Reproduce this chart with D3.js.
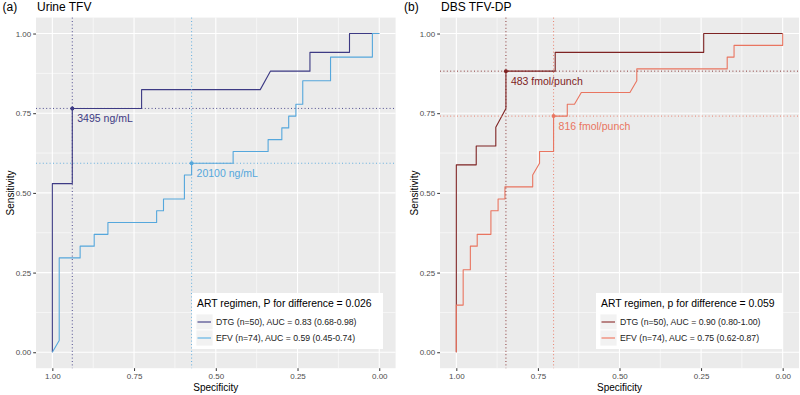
<!DOCTYPE html>
<html lang="en">
<head>
    <meta charset="UTF-8">
    <title>ROC curves by ART regimen</title>
    <script src="https://d3js.org/d3.v7.min.js"></script>
    <style>
        body { margin: 0; background: #fff; }
        svg { display: block; font-family: "Liberation Sans", Arial, sans-serif; }
        .tick-label { fill: #4d4d4d; font-size: 8px; }
        .axis-title { fill: #000; font-size: 10px; }
    </style>
</head>
<body>
<div id="chart"></div>
<script>
    // ticks shared by both panels
    const tickValues = [1, 0.75, 0.5, 0.25, 0];
    const tickLabels = ["1.00", "0.75", "0.50", "0.25", "0.00"];

    // (a) Urine TFV
    const urineDtgSpec = [1, 1, 0.939, 0.939, 0.727, 0.727, 0.364, 0.333, 0.212, 0.212, 0.091, 0.091, 0];
    const urineDtgSens = [0, 0.529, 0.529, 0.765, 0.765, 0.824, 0.824, 0.882, 0.882, 0.941, 0.941, 1, 1];
    const urineEfvSpec = [1, 0.979, 0.979, 0.915, 0.915, 0.872, 0.872, 0.830, 0.830, 0.681, 0.681, 0.660, 0.660,
        0.596, 0.596, 0.574, 0.574, 0.447, 0.447, 0.340, 0.340, 0.298, 0.298, 0.277, 0.277, 0.255, 0.255,
        0.234, 0.234, 0.149, 0.149, 0.021, 0.021, 0];
    const urineEfvSens = [0, 0.037, 0.296, 0.296, 0.333, 0.333, 0.370, 0.370, 0.407, 0.407, 0.444, 0.444, 0.481,
        0.481, 0.556, 0.556, 0.593, 0.593, 0.630, 0.630, 0.667, 0.667, 0.704, 0.704, 0.741, 0.741, 0.778,
        0.778, 0.852, 0.852, 0.926, 0.926, 1, 1];
    const urineCutSpec = [0.939, 0.574];
    const urineCutSens = [0.765, 0.593];
    const urineCutLabels = ["3495 ng/mL", "20100 ng/mL"];
    const urineLegend = ["DTG (n=50), AUC = 0.83 (0.68-0.98)", "EFV (n=74), AUC = 0.59 (0.45-0.74)"];

    // (b) DBS TFV-DP
    const dbsDtgSpec = [1, 1, 0.939, 0.939, 0.879, 0.879, 0.848, 0.848, 0.697, 0.697, 0.242, 0.242, 0];
    const dbsDtgSens = [0, 0.588, 0.588, 0.647, 0.647, 0.706, 0.765, 0.882, 0.882, 0.941, 0.941, 1, 1];
    const dbsEfvSpec = [1, 1, 0.979, 0.979, 0.957, 0.957, 0.936, 0.936, 0.894, 0.894, 0.872, 0.872, 0.851,
        0.851, 0.766, 0.766, 0.745, 0.745, 0.702, 0.702, 0.660, 0.660, 0.638, 0.617, 0.468, 0.447, 0.447,
        0.170, 0.170, 0.149, 0.149, 0, 0];
    const dbsEfvSens = [0, 0.148, 0.148, 0.259, 0.259, 0.333, 0.333, 0.370, 0.370, 0.444, 0.444, 0.481, 0.481,
        0.519, 0.519, 0.556, 0.593, 0.630, 0.630, 0.741, 0.741, 0.778, 0.778, 0.815, 0.815, 0.852, 0.889,
        0.889, 0.926, 0.926, 0.963, 0.963, 1];
    const dbsCutSpec = [0.848, 0.702];
    const dbsCutSens = [0.882, 0.741];
    const dbsCutLabels = ["483 fmol/punch", "816 fmol/punch"];
    const dbsLegend = ["DTG (n=50), AUC = 0.90 (0.80-1.00)", "EFV (n=74), AUC = 0.75 (0.62-0.87)"];

    const W = 800, H = 395;
    const svg = d3.select("#chart").append("svg")
        .attr("width", W)
        .attr("height", H);

    const panels = [
        {
            tag: "(a)", title: "Urine TFV", left: 36, right: 395.6, titleX: 37, tagX: 2.5,
            series: [
                {spec: urineDtgSpec, sens: urineDtgSens, color: "#3d3a84", key: "#3d3a84"},
                {spec: urineEfvSpec, sens: urineEfvSens, color: "#55a7dc", key: "#86c3e8"}
            ],
            cutSpec: urineCutSpec, cutSens: urineCutSens, cutLabels: urineCutLabels,
            legendTitle: "ART regimen, P for difference = 0.026", legendItems: urineLegend,
            legendX: 192, legendW: 191
        },
        {
            tag: "(b)", title: "DBS TFV-DP", left: 440, right: 799, titleX: 441, tagX: 404,
            series: [
                {spec: dbsDtgSpec, sens: dbsDtgSens, color: "#7e2323", key: "#8b2a2a"},
                {spec: dbsEfvSpec, sens: dbsEfvSens, color: "#e97560", key: "#f09a8a"}
            ],
            cutSpec: dbsCutSpec, cutSens: dbsCutSens, cutLabels: dbsCutLabels,
            legendTitle: "ART regimen, p for difference = 0.059", legendItems: dbsLegend,
            legendX: 596, legendW: 187
        }
    ];

    const panelTop = 17.6, panelBottom = 368.2;

    panels.forEach(p => {
        // ggplot style 5% expansion on both axes
        const x = d3.scaleLinear().domain([1.05, -0.05]).range([p.left, p.right]);
        const y = d3.scaleLinear().domain([-0.05, 1.05]).range([panelBottom, panelTop]);
        const g = svg.append("g");

        g.append("rect")
            .attr("x", p.left).attr("y", panelTop)
            .attr("width", p.right - p.left).attr("height", panelBottom - panelTop)
            .attr("fill", "#ebebeb");

        const minor = [0.125, 0.375, 0.625, 0.875];
        minor.forEach(v => {
            g.append("line").attr("x1", x(v)).attr("x2", x(v)).attr("y1", panelTop).attr("y2", panelBottom)
                .attr("stroke", "#fff").attr("stroke-width", 0.55);
            g.append("line").attr("x1", p.left).attr("x2", p.right).attr("y1", y(v)).attr("y2", y(v))
                .attr("stroke", "#fff").attr("stroke-width", 0.55);
        });
        tickValues.forEach(v => {
            g.append("line").attr("x1", x(v)).attr("x2", x(v)).attr("y1", panelTop).attr("y2", panelBottom)
                .attr("stroke", "#fff").attr("stroke-width", 1.1);
            g.append("line").attr("x1", p.left).attr("x2", p.right).attr("y1", y(v)).attr("y2", y(v))
                .attr("stroke", "#fff").attr("stroke-width", 1.1);
        });

        // axes
        const xAxis = d3.axisBottom(x).tickValues(tickValues)
            .tickFormat((d, i) => tickLabels[i]).tickSize(2.8).tickPadding(2);
        const yAxis = d3.axisLeft(y).tickValues(tickValues)
            .tickFormat((d, i) => tickLabels[i]).tickSize(2.8).tickPadding(2);
        const gx = g.append("g").attr("transform", `translate(0,${panelBottom})`).call(xAxis);
        const gy = g.append("g").attr("transform", `translate(${p.left},0)`).call(yAxis);
        [gx, gy].forEach(a => {
            a.select(".domain").remove();
            a.selectAll(".tick line").attr("stroke", "#333").attr("stroke-width", 1);
            a.selectAll(".tick text").attr("class", "tick-label").attr("fill", "#4d4d4d")
                .style("font-family", "'Liberation Sans', Arial, sans-serif");
        });

        g.append("text").attr("class", "axis-title")
            .attr("x", (p.left + p.right) / 2).attr("y", 391)
            .attr("text-anchor", "middle").text("Specificity");
        g.append("text").attr("class", "axis-title")
            .attr("transform", `translate(${p.left - 22.5},${(panelTop + panelBottom) / 2}) rotate(-90)`)
            .attr("text-anchor", "middle").text("Sensitivity");

        g.append("text").attr("x", p.tagX).attr("y", 11).attr("font-size", 12).text(p.tag);
        g.append("text").attr("x", p.titleX).attr("y", 11).attr("font-size", 12).text(p.title);

        // ROC paths
        const line = d3.line().x(d => x(d[0])).y(d => y(d[1]));
        p.series.forEach(s => {
            const pts = s.spec.map((v, i) => [v, s.sens[i]]);
            g.append("path").datum(pts)
                .attr("d", line)
                .attr("fill", "none")
                .attr("stroke", s.color)
                .attr("stroke-width", 1.1)
                .attr("stroke-linejoin", "round");
        });

        // cut-off reference lines, points and labels
        p.series.forEach((s, i) => {
            const cx = x(p.cutSpec[i]), cy = y(p.cutSens[i]);
            g.append("line").attr("x1", cx).attr("x2", cx).attr("y1", panelTop).attr("y2", panelBottom)
                .attr("stroke", s.color).attr("stroke-width", 0.9).attr("stroke-dasharray", "1,2.4");
            g.append("line").attr("x1", p.left).attr("x2", p.right).attr("y1", cy).attr("y2", cy)
                .attr("stroke", s.color).attr("stroke-width", 0.9).attr("stroke-dasharray", "1,2.4");
            g.append("circle").attr("cx", cx).attr("cy", cy).attr("r", 2).attr("fill", s.color);
            g.append("text").attr("x", cx + 5).attr("y", cy + 14)
                .attr("font-size", 10.5).attr("fill", s.color).text(p.cutLabels[i]);
        });

        // legend
        const lg = g.append("g").attr("transform", `translate(${p.legendX},293)`);
        lg.append("rect").attr("width", p.legendW).attr("height", 56).attr("fill", "#fff");
        lg.append("text").attr("x", 5).attr("y", 14.3).attr("font-size", 10.4).text(p.legendTitle);
        p.series.forEach((s, i) => {
            const ky = 21 + i * 16;
            lg.append("rect").attr("x", 4).attr("y", ky).attr("width", 17).attr("height", 16)
                .attr("fill", "#f2f2f2").attr("stroke", "#fff").attr("stroke-width", 0.8);
            lg.append("line").attr("x1", 5.5).attr("x2", 19).attr("y1", ky + 8).attr("y2", ky + 8)
                .attr("stroke", s.key).attr("stroke-width", i === 0 ? 1.1 : 1.6);
            lg.append("text").attr("x", 24).attr("y", ky + 11).attr("font-size", 8.7)
                .attr("fill", "#1a1a1a").text(p.legendItems[i]);
        });
    });
</script>
</body>
</html>
